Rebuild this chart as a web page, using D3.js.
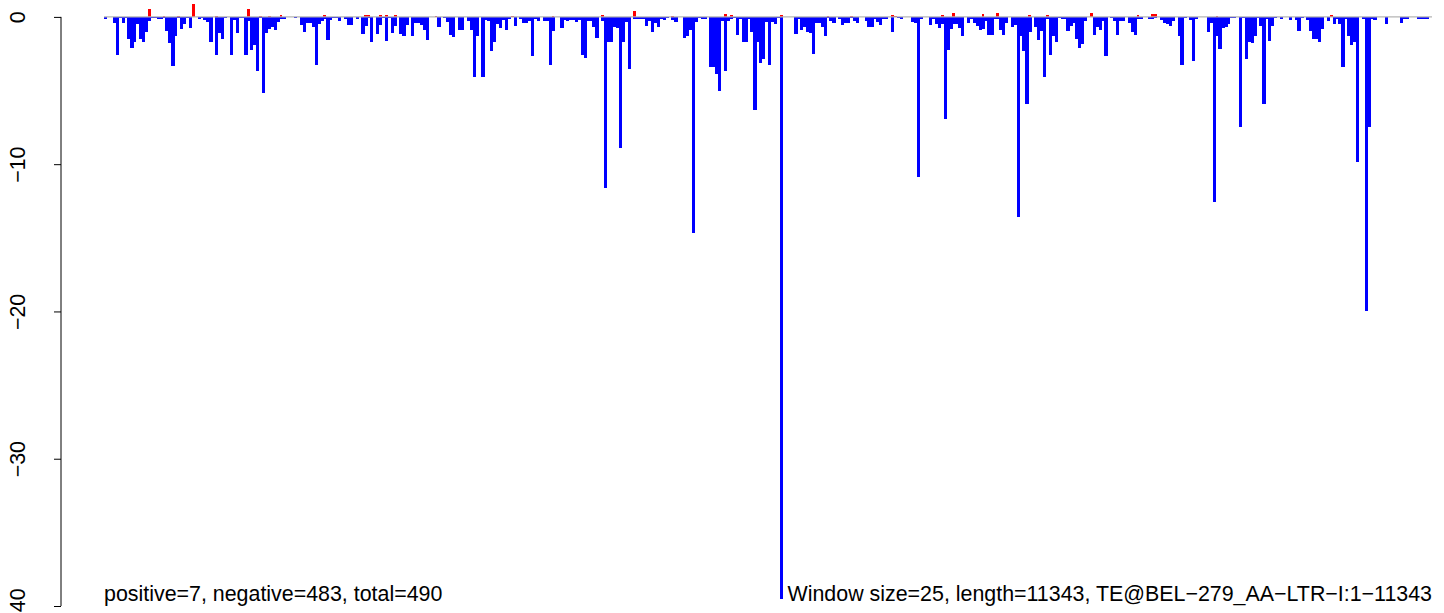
<!DOCTYPE html>
<html>
<head>
<meta charset="utf-8">
<script src="https://cdn.jsdelivr.net/npm/d3@7"></script>
<style>
	body { margin: 0; background: #ffffff; }
	text { font-family: "Liberation Sans", Arial, Helvetica, sans-serif; }
</style>
</head>
<body>
<div id="chart"></div>
<script>
// window scores along the element, one value per 25 bp window
const winSize = 25;
const seqLength = 11343;

const negative = [
	-0.14,0,0,-0.4,-2.57,-0.07,-0.4,-0.07,-1.5,-2.1,-1.7,-0.47,-1.5,-1.7,-1.0,-0.27,-0.07,-0.07,-0.12,-0.12,
	-0.07,-0.95,-1.76,-3.34,-1.29,-0.07,-0.81,-0.47,-0.07,-0.74,0,0,-0.14,-0.07,-0.2,-0.34,-1.7,0,-2.57,-1.08,
	-1.5,-0.07,0,-2.57,-0.2,-1.08,-0.07,-0.07,-2.57,-0.27,-2.23,-1.9,-3.66,-0.07,-5.2,-1.08,-0.81,-0.68,-0.88,-0.34,
	-0.12,-0.14,0,0,0,-0.07,0,-0.54,-1.0,-0.4,-0.4,-0.68,-3.25,-0.47,-0.27,-0.14,-1.56,-0.2,-0.07,-0.07,
	-0.27,0,-0.14,-0.54,-0.54,0,-0.14,0,-1.15,-0.6,-0.07,-1.7,0,-1.15,-0.54,-0.07,-1.63,-0.07,-1.08,-0.6,
	0,-1.15,-1.29,-0.54,0,-1.29,-0.4,-0.4,-0.54,-0.88,-1.56,0,0,0,-0.68,0,-0.07,-0.34,-1.22,-1.35,
	0,-0.88,-0.88,0,-0.27,-0.88,-4.06,-1.29,0,-4.06,-0.2,-0.27,-2.3,-1.7,-0.47,-0.74,-0.2,-0.88,-0.14,0,
	-0.6,0,-0.14,-0.4,-0.4,-0.27,-2.64,-0.14,-0.27,0,-0.27,-0.27,-3.25,-0.95,0,0,-0.74,-0.2,-0.27,-0.2,
	-0.2,-0.34,-0.2,-2.57,-2.78,-0.27,-0.27,-0.68,-1.42,0,-0.27,-11.6,-1.7,-1.7,-0.68,-0.74,-8.9,-1.7,-0.34,-3.52,
	0,-0.14,-0.14,-0.14,-0.14,-0.6,-0.27,-1.0,-0.4,-0.68,-0.14,-0.2,-0.07,0,-0.2,-0.34,0,0,-1.42,-1.29,
	-0.88,-14.7,-0.34,-0.07,-0.14,-0.14,0,-3.39,-3.39,-3.86,-5.0,-0.27,-3.66,-0.27,-0.14,-0.07,-1.22,-0.14,-1.7,-1.7,
	-0.14,-1.0,-6.3,-1.7,-3.12,-2.84,-0.34,-3.25,-0.34,-0.47,-0.07,-39.5,0,0,0,0,-1.15,-0.14,-0.88,-0.68,
	-1.0,-1.08,-2.5,-0.4,-0.4,-0.68,-1.29,-0.07,-0.27,-0.4,0,-0.14,-0.54,-0.4,-0.4,-0.07,-0.27,-0.4,0,0,
	-0.27,-0.68,-0.68,-0.14,-0.34,-0.54,-0.14,-0.14,0,-1.0,0,-0.07,-0.14,0,0,0,-0.34,-0.4,-10.9,-0.14,
	0,0,-0.54,-0.14,-0.47,-0.74,-0.45,-6.9,-2.23,-0.81,-0.47,-0.47,-0.74,-1.29,0,-0.4,-0.14,-0.4,-0.6,-0.88,
	-0.81,-0.27,-1.22,-1.22,-0.14,-0.14,-0.88,-1.22,-0.4,0,-0.68,-0.54,-13.6,-1.29,-2.3,-5.9,-1.0,0,-0.68,-1.56,
	-0.95,-4.06,-0.14,-2.57,-1.29,-1.7,-0.07,-0.14,-0.14,-0.95,-0.6,-0.4,-1.5,-2.1,-1.83,-0.27,0,0,-1.22,-0.68,
	-0.88,-0.27,-2.64,0,-0.07,-0.27,-1.22,-0.27,-0.27,0,-0.4,-1.0,-1.22,-0.14,-0.14,0,0,-0.14,-0.14,-0.07,
	0,-0.2,-0.4,-0.47,-0.6,-0.27,0,-1.29,-3.25,-0.07,0,-0.2,-2.98,-0.14,0,0,0,-1.0,-0.4,-12.6,
	-1.29,-2.17,-0.74,-0.68,-0.47,-0.07,-0.07,0,-7.5,-0.07,-2.84,-1.7,-1.76,-1.29,-0.07,-0.6,-5.9,-0.14,-1.63,-0.6,
	-0.07,0,-0.14,0,0,-0.2,0,-0.2,-0.95,-0.07,0,-0.2,-0.95,-1.5,-1.5,-1.7,-0.81,0,-0.27,0,
	-0.47,-0.14,-0.47,-3.39,-0.14,-1.29,-1.9,-1.7,-9.85,0,-0.14,-20.0,-7.5,-0.14,-0.2,0,0,0,-0.47,0,
	0,0,0,-0.4,-0.14,-0.14,0,0,0,-0.14,-0.14,-0.14,-0.14,0
];

// the few windows with a positive score (window index, value)
const posIndex = [15,20,25,30,38,49,53,56,60,75,89,90,94,96,99,113,139,153,170,181,
	194,212,214,231,247,255,269,270,286,290,300,305,316,322,337,353,358,359,380,419];
const posValue = [0.52,0.05,0.05,0.9,0.05,0.52,0.05,0.05,0.1,0.1,0.1,0.1,0.1,0.1,0.1,0.05,0.05,0.05,0.1,0.38,
	0.05,0.18,0.1,0.1,0.05,0.05,0.1,0.05,0.1,0.25,0.18,0.25,0.1,0.1,0.25,0.1,0.18,0.18,0.05,0.1];

const yTicks = [0, -10, -20, -30, -40];
const leftLabel = "positive=7, negative=483, total=490";
const rightLabel = "Window size=" + winSize + ", length=" + seqLength + ", TE@BEL\u2212279_AA\u2212LTR\u2212I:1\u2212" + seqLength;

const Width = 1444, Height = 613;

let svg = d3.select("#chart").append("svg")
	.attr("width", Width)
	.attr("height", Height);

let x = d3.scaleBand()
	.domain(d3.range(negative.length))
	.range([104, 1432])
	.padding(0);

let y = d3.scaleLinear().domain([-40, 0]).range([606, 16.9]);

// negative windows
svg.append("g")
	.selectAll("rect")
	.data(negative)
	.enter()
		.append("rect")
		.attr("x", (d, i) => x(i))
		.attr("width", x.bandwidth() + 0.3)
		.attr("y", y(0))
		.attr("height", d => y(d) - y(0))
		.attr("fill", "#0000ff")
		.attr("shape-rendering", "crispEdges");

// positive windows
let pos = posIndex.map((k, i) => ({k: k, v: posValue[i]}));
svg.append("g")
	.selectAll("rect")
	.data(pos)
	.enter()
		.append("rect")
		.attr("x", d => x(d.k))
		.attr("width", x.bandwidth())
		.attr("y", d => y(d.v))
		.attr("height", d => y(0) - y(d.v))
		.attr("fill", "#ff0000")
		.attr("shape-rendering", "crispEdges");

// zero line
svg.append("line")
	.attr("x1", 104).attr("x2", 1432)
	.attr("y1", y(0)).attr("y2", y(0))
	.attr("stroke", "#b4b4b4")
	.attr("stroke-width", 1.4);

// y axis, R style: vertical labels left of the ticks
let axis = svg.append("g")
	.attr("transform", "translate(61,0)")
	.call(d3.axisLeft(y).tickValues(yTicks).tickSize(7).tickFormat(d => d3.format("")(d).replace("-", "\u2212")));
axis.select(".domain").attr("d", "M0," + y(-40) + "V" + y(0)).attr("stroke", "#000");
axis.selectAll(".tick line").attr("stroke", "#000");
axis.selectAll(".tick text")
	.attr("font-size", "21.4px")
	.attr("fill", "#000")
	.attr("text-anchor", "middle")
	.attr("x", null).attr("dy", null)
	.attr("transform", "translate(-36,0) rotate(-90)");

// footer notes
svg.append("text")
	.attr("x", 104).attr("y", 601)
	.attr("font-size", "21.4px")
	.text(leftLabel);

svg.append("text")
	.attr("x", 1432).attr("y", 601)
	.attr("text-anchor", "end")
	.attr("font-size", "21.4px")
	.text(rightLabel);
</script>
</body>
</html>
